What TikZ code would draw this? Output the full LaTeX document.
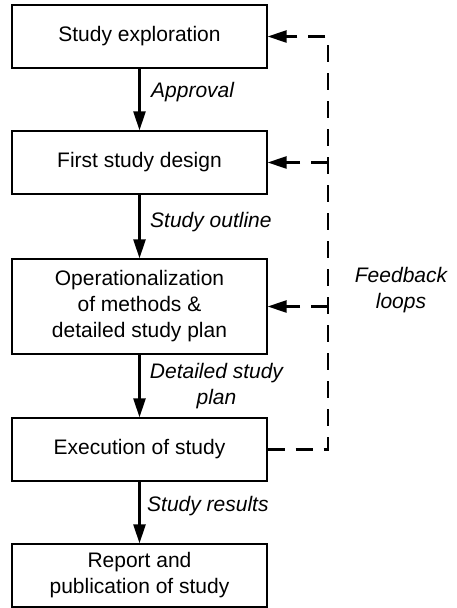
\documentclass[tikz,border=0pt]{standalone}
\usepackage{fontspec}
\setmainfont{Liberation Sans}
\usetikzlibrary{arrows.meta, positioning}

\begin{document}
\begin{tikzpicture}[x=10pt, y=10pt,
  stepbox/.style={draw, line width=1.3pt, minimum width=255pt, minimum height=63pt,
    align=center, font=\fontsize{21}{26}\selectfont},
  flowlabel/.style={inner sep=0pt, font=\fontsize{21}{26}\selectfont\itshape},
  flow/.style={line width=2.6pt, -{Triangle[length=19pt,width=12pt]}},
  loopline/.style={line width=2.6pt, dash pattern=on 17pt off 11pt}]
  \useasboundingbox (0,0) rectangle (45.6,60.8);

  % Study phases
  \node[stepbox] (explore) at (13.95,57.15) {Study exploration};
  \node[stepbox] (design) at (13.95,44.55) {First study design};
  \node[stepbox, minimum height=95pt] (operate) at (13.95,30.15)
    {Operationalization\\of methods \&\\detailed study plan};
  \node[stepbox] (execute) at (13.95,15.85) {Execution of study};
  \node[stepbox] (report) at (13.95,3.25) {Report and\\publication of study};

  % Forward flow
  \draw[flow] (explore) -- (design);
  \draw[flow] (design) -- (operate);
  \draw[flow] (operate) -- (execute);
  \draw[flow] (execute) -- (report);

  % Outputs between phases
  \node[flowlabel, anchor=base west] (approval) at (15.1,51.0) {Approval};
  \node[flowlabel, anchor=base west] (outline) at (15.0,38.0) {Study outline};
  \node[flowlabel, align=center] (detplan) at (21.65,22.2) {Detailed study\\plan};
  \node[flowlabel, anchor=base west] (results) at (14.7,9.63) {Study results};

  % Feedback loops
  \coordinate (fbtop) at (32.8,57.15);
  \coordinate (fbdesign) at (32.8,44.55);
  \coordinate (fboperate) at (32.8,30.15);
  \coordinate (fbbot) at (32.8,15.85);
  \draw[loopline, -{Triangle[length=19pt,width=12pt]}]
    (execute) -- (fbbot) -- (fbtop) -- (explore);
  \draw[loopline, -{Triangle[length=19pt,width=12pt]}] (fbdesign) -- (design);
  \draw[loopline, -{Triangle[length=19pt,width=12pt]}] (fboperate) -- (operate);
  \node[flowlabel, align=center] (feedback) at (40.1,31.8) {Feedback\\loops};
\end{tikzpicture}
\end{document}
